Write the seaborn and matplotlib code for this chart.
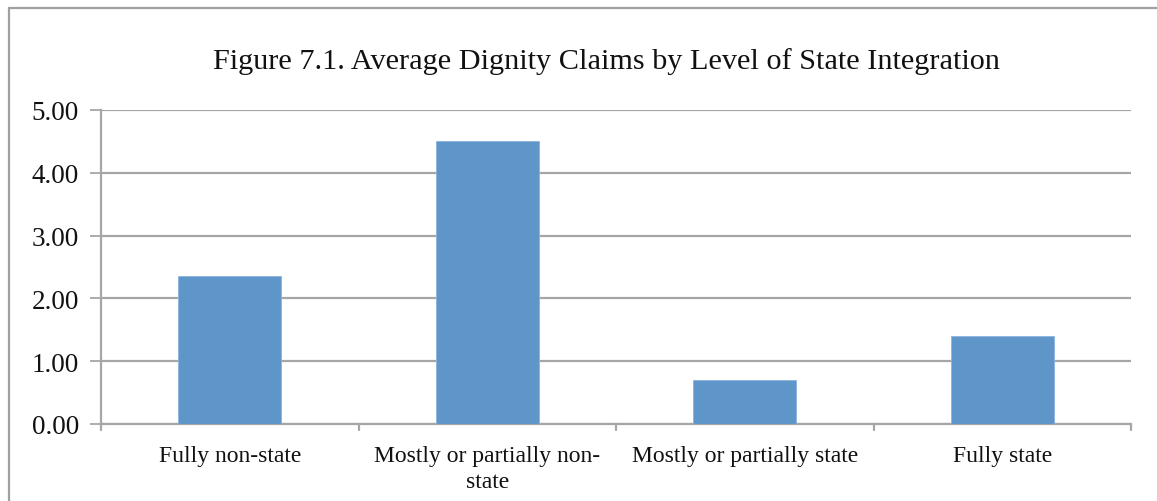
import matplotlib
matplotlib.use("Agg")
import matplotlib.pyplot as plt
import seaborn as sns
import pandas as pd
from matplotlib.lines import Line2D

categories = ["Fully non-state", "Mostly or partially non-\nstate",
              "Mostly or partially state", "Fully state"]
values = [2.35, 4.51, 0.70, 1.40]
yticks = [0.0, 1.0, 2.0, 3.0, 4.0, 5.0]
title = "Figure 7.1. Average Dignity Claims by Level of State Integration"

sns.set_theme(style="white")
plt.rcParams["font.family"] = ["Liberation Serif", "DejaVu Serif"]

W, H = 1157, 502
fig = plt.figure(figsize=(W / 100, H / 100), dpi=100)
ax = fig.add_axes([101 / W, 1 - 425 / H, (1131 - 101) / W, (425 - 111) / H])

df = pd.DataFrame({"category": categories, "value": values})
sns.barplot(data=df, x="category", y="value", color="#5F96C9", saturation=1,
            width=0.4, ax=ax, zorder=3, edgecolor="#8DB4DE", linewidth=0.6)

grid_c = "#A6A6A6"
ax.set_ylim(0, 5)
ax.set_xlim(-0.5, len(categories) - 0.5)
ax.set_yticks(yticks)
ax.set_yticklabels([f"{v:.2f}" for v in yticks], fontsize=19.5, color="#111111")
ax.yaxis.grid(True, color=grid_c, linewidth=1.6, zorder=0)
ax.set_axisbelow(True)

ax.set_xticks(range(len(categories)))
ax.set_xticklabels(categories, fontsize=17, color="#111111", linespacing=1.3)
ax.tick_params(axis="x", length=0, pad=15)
ax.tick_params(axis="y", length=8, width=1.3, color=grid_c, pad=8, left=True)

# category boundary ticks along the bottom axis
for b in [x - 0.5 for x in range(len(categories) + 1)]:
    ax.plot([b, b], [0, -0.09], color=grid_c, linewidth=1.6,
            clip_on=False, zorder=4)

ax.set_xlabel("")
ax.set_ylabel("")
for s in ["top", "right"]:
    ax.spines[s].set_visible(False)
for s in ["left", "bottom"]:
    ax.spines[s].set_color(grid_c)
    ax.spines[s].set_linewidth(1.6)

fig.text(606 / W, 1 - 62 / H, title, ha="center", va="center",
         fontsize=21.8, color="#111111")

# outer chart frame
fx, fy = 9 / W, 1 - 9 / H
fig.add_artist(Line2D([fx, 1.0], [fy, fy], color="#A0A0A0", linewidth=1.6,
                      transform=fig.transFigure))
fig.add_artist(Line2D([fx, fx], [0.0, fy], color="#A0A0A0", linewidth=1.6,
                      transform=fig.transFigure))

fig.savefig("out.png", dpi=100)
